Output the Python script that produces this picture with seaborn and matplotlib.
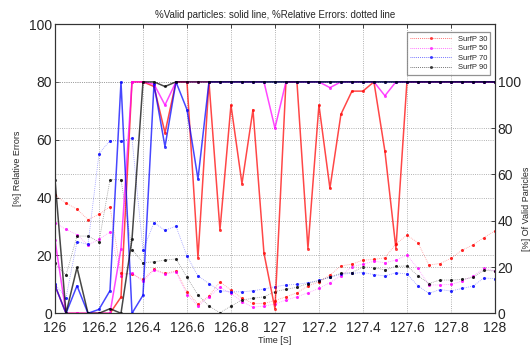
import numpy as np
import pandas as pd
import matplotlib
matplotlib.use("Agg")
import matplotlib.pyplot as plt
import seaborn as sns
from matplotlib.lines import Line2D

# ---------------- data ----------------
time = [126.00, 126.05, 126.10, 126.15, 126.20, 126.25, 126.30, 126.35, 126.40, 126.45,
        126.50, 126.55, 126.60, 126.65, 126.70, 126.75, 126.80, 126.85, 126.90, 126.95,
        127.00, 127.05, 127.10, 127.15, 127.20, 127.25, 127.30, 127.35, 127.40, 127.45,
        127.50, 127.55, 127.60, 127.65, 127.70, 127.75, 127.80, 127.85, 127.90, 127.95,
        128.00]

series_names = ["SurfP 30", "SurfP 50", "SurfP 70", "SurfP 90"]

# % valid particles (solid lines, right axis)
valid_30 = [12, 0, 0, 0, 0, 0, 7, 100, 100, 98,
            78, 100, 100, 24, 100, 36, 90, 56, 88, 26,
            2, 100, 100, 28, 90, 54, 86, 96, 96, 100,
            70, 28, 100, 100, 100, 100, 100, 100, 100, 100,
            100]
valid_50 = [31.6, 0, 0, 0, 0, 0, 28, 100, 100, 99,
            90, 100, 100, 100, 100, 100, 100, 100, 100, 100,
            80, 100, 100, 100, 100, 97.5, 100, 100, 100, 100,
            94, 100, 100, 100, 100, 100, 100, 100, 100, 100,
            100]
valid_70 = [12, 0, 11.9, 0, 1.7, 9.8, 100, 0, 7.8, 99,
            72, 100, 88, 58, 100, 100, 100, 100, 100, 100,
            100, 100, 100, 100, 100, 100, 100, 100, 100, 100,
            100, 100, 100, 100, 100, 100, 100, 100, 100, 100,
            100]
valid_90 = [57.7, 0, 19.8, 0, 0, 2, 0, 32, 100, 100,
            98, 100, 100, 100, 100, 100, 100, 100, 100, 100,
            100, 100, 100, 100, 100, 100, 100, 100, 100, 100,
            100, 100, 100, 100, 100, 100, 100, 100, 100, 100,
            100]

# % relative errors (dotted lines, left axis)
err_30 = [40.8, 38.1, 36, 32.4, 34.2, 36.8, 14, 13.5, 11.7, 15.2,
          13.8, 14.6, 7.5, 3.2, 6, 10.9, 8, 5.2, 3.4, 3.4,
          4.4, 5.7, 7.1, 9.4, 10.9, 13.2, 16.4, 17, 18.4, 18.6,
          19.2, 24, 27, 24.4, 16.7, 17.2, 19, 21.8, 23.6, 26.2,
          28.5]
err_50 = [31.3, 29, 27.2, 23.6, 25.6, 28.1, 13, 14, 11, 15,
          13.5, 14.3, 6.5, 2.5, 5.7, 9, 6.9, 4, 2.1, 2.5,
          3.2, 4.6, 5.7, 7.1, 8.6, 10.6, 13, 16.1, 17, 18,
          17.5, 18.4, 20.1, 15.5, 9.8, 9.8, 10, 11.1, 12.9, 15.5,
          14.7]
err_70 = [10, 5.4, 24.8, 23.8, 55.2, 59.7, 59.5, 60.5, 21.8, 31.3,
          28.7, 30.1, 19.8, 12.9, 10.3, 7.8, 7.5, 7.4, 7.8, 8.4,
          9.2, 9.8, 10, 10.6, 11.4, 12.4, 13.5, 13.8, 14.1, 13.4,
          12.9, 14, 13.6, 9.5, 6.9, 8.2, 7.7, 8.6, 9.4, 12.2,
          12]
err_90 = [17.3, 13.2, 26.7, 26.7, 24.7, 46.2, 46.2, 22, 17.5, 17.8,
          18.4, 18.8, 12.4, 6.3, 2.5, 0.2, 2.5, 4.6, 5.2, 5.7,
          7.5, 8.3, 9, 10.3, 11.3, 12.6, 13.8, 14.1, 16, 15.8,
          15, 16.2, 16.4, 13, 10.3, 11.5, 11.5, 11.7, 12.4, 14.9,
          14.6]

x_ticks = [126, 126.2, 126.4, 126.6, 126.8, 127, 127.2, 127.4, 127.6, 127.8, 128]
x_tick_labels = ["126", "126.2", "126.4", "126.6", "126.8", "127",
                 "127.2", "127.4", "127.6", "127.8", "128"]
left_ticks = [0, 20, 40, 60, 80, 100]
right_ticks = [0, 20, 40, 60, 80, 100]

colors = ["#ff0000", "#ff00ff", "#0000ff", "#000000"]

# ---------------- figure ----------------
sns.set_style("white")
plt.rcParams["font.family"] = ["Liberation Sans", "DejaVu Sans"]

fig = plt.figure(figsize=(5.31, 3.48), dpi=100)
ax = fig.add_axes([0.1036, 0.0997, 0.8284, 0.8313])
ax2 = ax.twinx()

valid_all = [valid_30, valid_50, valid_70, valid_90]
err_all = [err_30, err_50, err_70, err_90]

dot_style = (0, (1.0, 1.3))

# dotted error lines (left axis)
for name, vals, col in zip(series_names, err_all, colors):
    df = pd.DataFrame({"time": time, "value": vals})
    sns.lineplot(data=df, x="time", y="value", ax=ax, color=col, alpha=0.4,
                 linewidth=0.6, linestyle=dot_style, legend=False)
    sns.scatterplot(data=df, x="time", y="value", ax=ax, color=col, s=5,
                    linewidth=0, alpha=0.85, legend=False)

# solid valid lines (right axis)
for name, vals, col in zip(series_names, valid_all, colors):
    df = pd.DataFrame({"time": time, "value": vals})
    sns.lineplot(data=df, x="time", y="value", ax=ax2, color=col, alpha=0.72,
                 linewidth=1.1, marker="o", markersize=2.2, markeredgewidth=0,
                 legend=False)

# axes limits / ticks
ax.set_xlim(126, 128)
ax.set_ylim(0, 100)
ax2.set_ylim(0, 125)
ax.set_xticks(x_ticks)
ax.set_xticklabels(x_tick_labels)
ax.set_yticks(left_ticks)
ax2.set_yticks(right_ticks)
ax.tick_params(axis="x", labelsize=10, direction="in", length=3, top=True,
               pad=5.5, width=0.6)
ax.tick_params(axis="y", labelsize=10, direction="in", length=3, pad=2, width=0.6)
ax2.tick_params(axis="y", labelsize=10, direction="in", length=3, pad=2, width=0.6)

ax.set_xlabel("Time [S]", fontsize=6.5, labelpad=1)
ax.set_ylabel("[%] Relative Errors", fontsize=6.5, labelpad=5)
ax2.set_ylabel("[%] Of Valid Particles", fontsize=6.5)
ax2.yaxis.set_label_coords(1.062, 0.36)
ax.set_title("%Valid particles: solid line, %Relative Errors: dotted line",
             fontsize=7, pad=4)

# grids
ax.grid(True, linestyle=":", color="#999999", linewidth=0.6)
ax2.yaxis.grid(True, linestyle=":", color="#999999", linewidth=0.6)
ax.set_axisbelow(True)
ax2.set_axisbelow(True)

for a in (ax, ax2):
    for s in a.spines.values():
        s.set_color("#333333")
        s.set_linewidth(0.8)

# legend (dotted style)
handles = [Line2D([0], [0], color=c, linestyle=dot_style, linewidth=0.6,
                  marker="o", markersize=2.2, markeredgewidth=0, alpha=0.7)
           for c in colors]
leg = ax2.legend(handles, series_names, loc="upper right", fontsize=5.5,
                 frameon=True, fancybox=False, edgecolor="#777777",
                 handlelength=5.5, borderpad=0.4, labelspacing=0.3,
                 bbox_to_anchor=(0.998, 0.985))
leg.get_frame().set_linewidth(0.9)

fig.savefig("out.png", dpi=100)
